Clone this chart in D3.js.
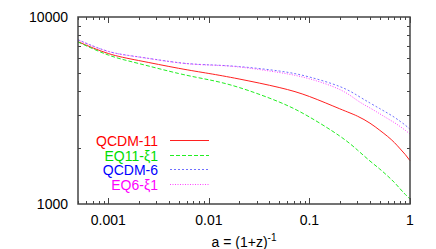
<!DOCTYPE html>
<html>
<head>
<meta charset="utf-8">
<script src="https://cdn.jsdelivr.net/npm/d3@7"></script>
<style>
  body { margin: 0; background: #fff; }
  text { font-family: "Liberation Sans", Arial, sans-serif; }
</style>
</head>
<body>
<svg width="436" height="249"></svg>
<script>
// scale factor a = (1+z)^-1
var aVals = [0.0005, 0.001, 0.002, 0.005, 0.01, 0.02, 0.05, 0.1, 0.2, 0.3, 0.4, 0.5, 0.6, 0.7, 0.8, 0.9, 1];
var qcdm11 = [7379, 6379, 5853, 5318, 4989, 4661, 4198, 3757, 3230, 2950, 2705, 2480, 2296, 2130, 1970, 1835, 1704];
var eq11   = [7352, 6263, 5642, 4989, 4616, 4198, 3512, 2919, 2310, 1944, 1698, 1539, 1411, 1303, 1203, 1124, 1063];
var qcdm6  = [7560, 6550, 6120, 5700, 5550, 5430, 5143, 4776, 4249, 3804, 3468, 3238, 3059, 2908, 2765, 2636, 2508];
var eq6    = [7534, 6540, 6110, 5690, 5535, 5402, 5050, 4672, 4096, 3577, 3262, 3037, 2862, 2722, 2593, 2475, 2367];
var seriesNames = ["QCDM-11", "EQ11-\u03be1", "QCDM-6", "EQ6-\u03be1"];
var xTickVals = [0.001, 0.01, 0.1, 1];
var xTickLabels = ["0.001", "0.01", "0.1", "1"];
var yTickVals = [1000, 10000];
var yTickLabels = ["1000", "10000"];

var colors = ["#ff2020", "#22ee22", "#7070ff", "#ff44ff"];
var textColors = ["#ff0000", "#00dd00", "#0000ff", "#ff00ff"];
var dashes = [null, "4,2", "2,2", "1,1.5"];
var allSeries = [qcdm11, eq11, qcdm6, eq6];

var svg = d3.select("svg");
var pLeft = 78, pRight = 410, pTop = 17, pBottom = 204;

var x = d3.scaleLog().domain([0.0005, 1]).range([pLeft, pRight]);
var y = d3.scaleLog().domain([1000, 10000]).range([pBottom, pTop]);

// minor ticks
var xMinor = [];
[0.0001, 0.001, 0.01, 0.1].forEach(function (d) {
  for (var k = 2; k <= 9; k++) {
    var v = d * k;
    if (v >= 0.0005 && v < 1) xMinor.push(v);
  }
});
var yMinor = [2000, 3000, 4000, 5000, 6000, 7000, 8000, 9000];

var axisColor = "#444";
var g = svg.append("g");

// lines
var line = d3.line()
  .x(function (d) { return x(d[0]); })
  .y(function (d) { return y(d[1]); })
  .curve(d3.curveNatural);

allSeries.forEach(function (s, i) {
  var pts = aVals.map(function (a, j) { return [a, s[j]]; });
  g.append("path")
    .datum(pts)
    .attr("fill", "none")
    .attr("stroke", colors[i])
    .attr("stroke-width", 1)
    .attr("stroke-dasharray", dashes[i])
    .attr("d", line);
});

// ticks (inward, all four sides)
function tick(x1, y1, x2, y2) {
  g.append("line").attr("x1", x1).attr("y1", y1).attr("x2", x2).attr("y2", y2)
    .attr("stroke", axisColor).attr("stroke-width", 1);
}
xMinor.forEach(function (v) {
  var px = Math.round(x(v)) + 0.5;
  tick(px, pBottom, px, pBottom - 3);
  tick(px, pTop, px, pTop + 3);
});
xTickVals.forEach(function (v) {
  var px = Math.round(x(v)) + 0.5;
  tick(px, pBottom, px, pBottom - 6);
  tick(px, pTop, px, pTop + 6);
});
yMinor.forEach(function (v) {
  var py = Math.round(y(v)) + 0.5;
  tick(pLeft, py, pLeft + 3, py);
  tick(pRight, py, pRight - 3, py);
});

// frame
g.append("rect")
  .attr("x", pLeft).attr("y", pTop)
  .attr("width", pRight - pLeft).attr("height", pBottom - pTop)
  .attr("fill", "none").attr("stroke", axisColor).attr("stroke-width", 1.5);

// tick labels
xTickVals.forEach(function (v, i) {
  svg.append("text")
    .attr("x", x(v)).attr("y", 225)
    .attr("text-anchor", "middle")
    .attr("font-size", 14)
    .attr("fill", "#000")
    .text(xTickLabels[i]);
});
yTickVals.forEach(function (v, i) {
  svg.append("text")
    .attr("x", 68).attr("y", y(v) + 5)
    .attr("text-anchor", "end")
    .attr("font-size", 14)
    .attr("fill", "#000")
    .text(yTickLabels[i]);
});

// x axis title
var title = svg.append("text")
  .attr("x", 244).attr("y", 247)
  .attr("text-anchor", "middle")
  .attr("font-size", 14)
  .attr("fill", "#000");
title.append("tspan").text("a = (1+z)");
title.append("tspan").attr("dy", -6).attr("font-size", 10).text("-1");

// legend
var legY = [140.5, 155.5, 169.5, 184.5];
seriesNames.forEach(function (name, i) {
  svg.append("text")
    .attr("x", 158).attr("y", legY[i] + 5)
    .attr("text-anchor", "end")
    .attr("font-size", 14)
    .attr("fill", textColors[i])
    .text(name);
  svg.append("line")
    .attr("x1", 170).attr("x2", 209)
    .attr("y1", legY[i]).attr("y2", legY[i])
    .attr("stroke", colors[i])
    .attr("stroke-width", 1)
    .attr("stroke-dasharray", dashes[i]);
});
</script>
</body>
</html>
